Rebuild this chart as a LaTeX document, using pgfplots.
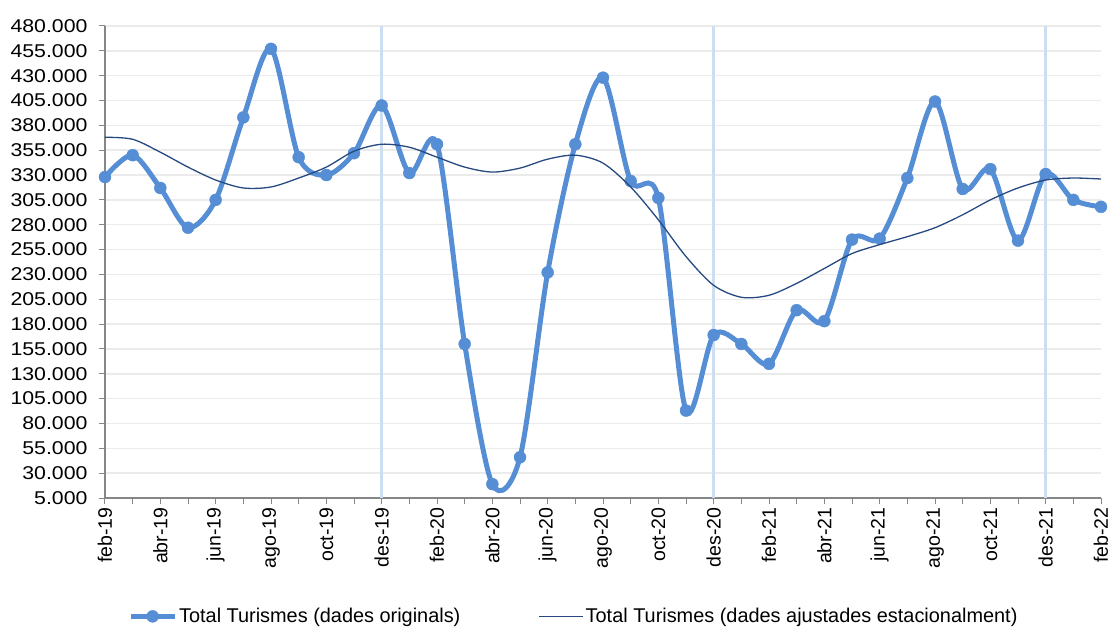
\documentclass[border=0pt]{standalone}
\usepackage{fontspec}
\setmainfont{Liberation Sans}
\newfontfamily\ytickfont{Liberation Sans}[FakeStretch=1.15]
\usepackage{pgfplots}
\pgfplotsset{compat=1.18}
\definecolor{orig}{RGB}{85,142,213}
\definecolor{adj}{RGB}{38,74,128}
\definecolor{vmark}{RGB}{205,222,242}
\definecolor{gridc}{RGB}{235,235,235}
\definecolor{axisc}{RGB}{134,134,134}

% month index: 0 = feb-19 ... 36 = feb-22
\pgfplotstableread{
x orig adj
0 328000 368000
1 350000 366000
2 317000 353000
3 277000 338000
4 305000 325000
5 388000 317000
6 457000 318000
7 348000 327000
8 330000 338000
9 352000 354000
10 400000 361000
11 332000 358000
12 361000 348000
13 160000 338000
14 19000 333000
15 46000 337000
16 232000 346000
17 361000 350000
18 428000 342000
19 324000 318000
20 307000 285000
21 93000 248000
22 169000 219000
23 160000 207000
24 140000 209000
25 194000 221000
26 183000 236000
27 265000 251000
28 266000 260000
29 327000 268000
30 404000 277000
31 316000 290000
32 336000 305000
33 264000 317000
34 331000 325000
35 305000 327000
36 298000 326000
}\turismes

\begin{document}
\begin{tikzpicture}
\begin{axis}[
  scale only axis, width=996pt, height=472pt,
  xmin=0, xmax=36, ymin=5000, ymax=480000,
  axis x line*=bottom, axis y line*=left,
  axis line style={axisc, line width=1.2pt},
  tick align=outside, major tick length=6pt, minor tick length=6pt,
  tick style={axisc, line width=1pt},
  xtick={0,2,...,36}, minor xtick={1,3,...,35},
  xticklabels={feb-19,abr-19,jun-19,ago-19,oct-19,des-19,feb-20,abr-20,jun-20,ago-20,oct-20,des-20,feb-21,abr-21,jun-21,ago-21,oct-21,des-21,feb-22},
  xticklabel style={rotate=90, anchor=east, font=\fontsize{19.5}{19.5}\selectfont},
  scaled y ticks=false,
  ytick={5000,30000,...,480000},
  yticklabel={\pgfmathprintnumber[fixed,precision=0,1000 sep={.},assume math mode=true]{\tick}},
  yticklabel style={font=\ytickfont\fontsize{18.5}{18.5}\selectfont, xshift=-8pt},
  ymajorgrids, grid style={gridc, line width=1.5pt},
  clip mode=individual,
  legend cell align=left,
  legend style={at={(0.02,-0.225)}, anchor=north west, draw=none, fill=none,
    legend columns=2, font=\fontsize{19.9}{23}\selectfont,
    /tikz/every even column/.append style={column sep=76pt}},
  legend image code/.code={\draw[mark repeat=2,mark phase=2,#1] plot coordinates {(0pt,0pt)(22pt,0pt)(44pt,0pt)};},
]
\addplot[ycomb, vmark, line width=3pt, no markers, forget plot]
  coordinates {(10,480000)(22,480000)(34,480000)};
\addplot[orig, line width=5pt, smooth, mark=*, mark size=6pt,
  mark options={solid, fill=orig, draw=orig, line width=0.4pt}]
  table[x=x, y=orig] {\turismes};
\addlegendentry{Total Turismes (dades originals)}
\addplot[adj, line width=1.3pt, smooth, no markers]
  table[x=x, y=adj] {\turismes};
\addlegendentry{Total Turismes (dades ajustades estacionalment)}
\coordinate (sw) at (rel axis cs:0,0);
\coordinate (ne) at (rel axis cs:1,1);
\end{axis}
\pgfresetboundingbox
\path[use as bounding box] ([xshift=-105pt,yshift=-136pt]sw) rectangle ([xshift=17pt,yshift=26pt]ne);
\end{tikzpicture}
\end{document}
